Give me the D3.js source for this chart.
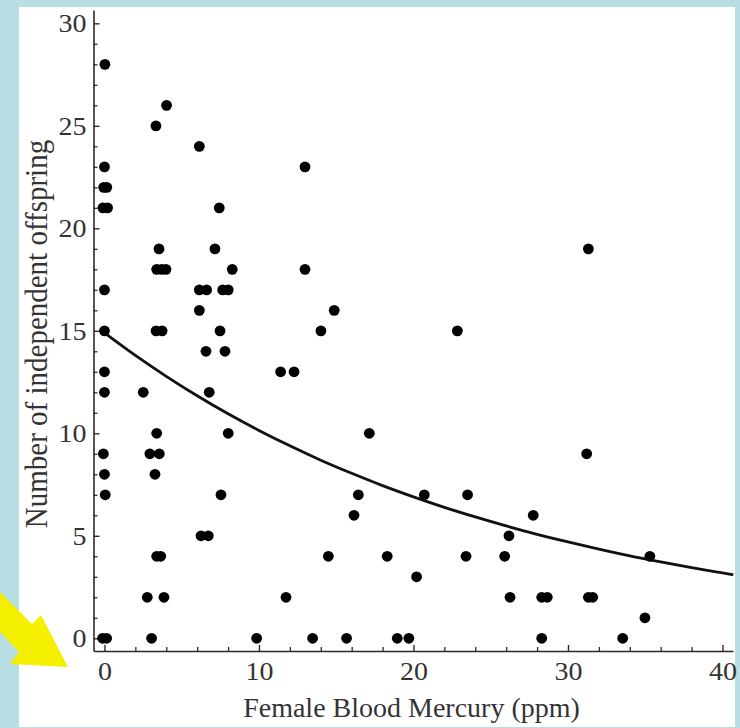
<!DOCTYPE html>
<html>
<head>
<meta charset="utf-8">
<script src="https://cdn.jsdelivr.net/npm/d3@7"></script>
<style>
  html, body { margin: 0; padding: 0; background: #b8dde3; }
  svg { display: block; }
</style>
</head>
<body>
<svg id="chart" width="740" height="728"></svg>
<script>
// Female blood mercury (ppm) for each female
const mercury = [
  0.03, 0, -0.05, 0.15, -0.1, 0.2, 0, 0, 0, 0, -0.07, 0, 0.05, -0.12, 0.14,
  2.51, 2.77, 2.94, 3.05, 3.27, 3.33, 3.34, 3.73, 3.38, 3.55, 3.38, 3.64, 3.85,
  3.53, 3.38, 3.7, 3.98, 4.02, 6.14, 6.14, 6.61, 6.14, 6.25, 6.72, 6.57, 6.78,
  7.15, 7.43, 7.48, 7.54, 7.65, 8.01, 7.8, 8.01, 8.27, 9.85, 11.4, 11.75, 12.27,
  12.98, 12.98, 13.47, 14.01, 14.49, 14.87, 15.67, 16.15, 16.43, 17.14, 18.3,
  18.95, 19.7, 20.2, 20.7, 22.84, 23.4, 23.5, 25.9, 26.18, 26.25, 27.75, 28.3,
  28.66, 28.3, 31.21, 31.32, 31.32, 31.6, 33.54, 34.98, 35.3
];
// Number of independent offspring for the same females
const offspring = [
  28, 23, 22, 22, 21, 21, 17, 15, 13, 12, 9, 8, 7, 0, 0,
  12, 2, 9, 0, 8, 25, 15, 15, 10, 9, 4, 4, 2,
  19, 18, 18, 18, 26, 24, 17, 17, 16, 5, 5, 14, 12,
  19, 21, 15, 7, 17, 17, 14, 10, 18, 0, 13, 2, 13,
  23, 18, 0, 15, 4, 16, 0, 6, 7, 10, 4,
  0, 0, 3, 7, 15, 4, 7, 4, 5, 2, 6, 2,
  2, 0, 9, 19, 2, 2, 0, 1, 4
];
// Fitted decline curve, sampled along the mercury axis
const fitX = [0, 2, 4, 6, 8, 10, 12, 14, 16, 18, 20, 22, 24, 26, 28, 30, 32, 34, 36, 38, 40, 40.7];
const fitY = [14.9, 13.8, 12.78, 11.83, 10.95, 10.14, 9.39, 8.69, 8.05, 7.45, 6.9, 6.39, 5.92, 5.48, 5.07, 4.7, 4.35, 4.02, 3.73, 3.45, 3.19, 3.1];

const xTicks = [0, 10, 20, 30, 40];
const xMinor = [2, 4, 6, 8, 12, 14, 16, 18, 22, 24, 26, 28, 32, 34, 36, 38];
const yTicks = [0, 5, 10, 15, 20, 25, 30];
const yMinor = d3.range(1, 30).filter(v => v % 5 !== 0);

const xTitle = "Female Blood Mercury (ppm)";
const yTitle = "Number of independent offspring";

const svg = d3.select("#chart");
const font = "'Liberation Serif', 'Times New Roman', serif";
const ink = "#2b2b2b";

// white panel
svg.append("rect").attr("x", 19).attr("y", 7).attr("width", 716).attr("height", 720).attr("fill", "#ffffff");

const x = d3.scaleLinear().domain([-0.71, 40.68]).range([93.5, 733]);
const y = d3.scaleLinear().domain([-0.62, 30.65]).range([651, 10]);

// minor ticks
svg.append("g").attr("transform", "translate(0,651)")
  .call(d3.axisBottom(x).tickValues(xMinor).tickSize(-4).tickFormat(""))
  .call(g => g.select(".domain").remove())
  .call(g => g.selectAll("line").attr("stroke", ink).attr("stroke-width", 1.3));
svg.append("g").attr("transform", "translate(93.5,0)")
  .call(d3.axisLeft(y).tickValues(yMinor).tickSize(-4).tickFormat(""))
  .call(g => g.select(".domain").remove())
  .call(g => g.selectAll("line").attr("stroke", ink).attr("stroke-width", 1.3));

// major axes
const xAxis = svg.append("g").attr("transform", "translate(0,651)")
  .call(d3.axisBottom(x).tickValues(xTicks).tickSize(-6).tickSizeOuter(0).tickPadding(11));
const yAxis = svg.append("g").attr("transform", "translate(93.5,0)")
  .call(d3.axisLeft(y).tickValues(yTicks).tickSize(-6).tickSizeOuter(0).tickPadding(7));

[xAxis, yAxis].forEach(g => {
  g.select(".domain").attr("stroke", ink).attr("stroke-width", 1.6);
  g.selectAll(".tick line").attr("stroke", ink).attr("stroke-width", 1.4);
  g.selectAll(".tick text")
    .attr("fill", "#333")
    .style("font-family", font)
    .style("font-size", "26px")
    .attr("textLength", d => String(d).length * 14)
    .attr("lengthAdjust", "spacingAndGlyphs");
});

// fitted curve
const line = d3.line().x(d => x(d[0])).y(d => y(d[1])).curve(d3.curveMonotoneX);
svg.append("path")
  .datum(fitX.map((v, i) => [v, fitY[i]]))
  .attr("d", line)
  .attr("fill", "none")
  .attr("stroke", "#111")
  .attr("stroke-width", 2.8);

// observations
svg.append("g").selectAll("circle")
  .data(mercury.map((v, i) => [v, offspring[i]]))
  .join("circle")
  .attr("cx", d => x(d[0]))
  .attr("cy", d => y(d[1]))
  .attr("r", 5.4)
  .attr("fill", "#000");

// axis titles
svg.append("text")
  .attr("x", 411.5).attr("y", 717)
  .attr("text-anchor", "middle")
  .attr("fill", "#333")
  .style("font-family", font)
  .style("font-size", "28px")
  .text(xTitle);

svg.append("text")
  .attr("transform", "translate(47,334) scale(1.1,1) rotate(-90)")
  .attr("text-anchor", "middle")
  .attr("fill", "#333")
  .style("font-family", font)
  .style("font-size", "29px")
  .text(yTitle);

// pointer arrow in the lower left corner
svg.append("path")
  .attr("d", "M0,592 L32,624 L41,615 L68,667 L10,664 L19,652 L0,632 Z")
  .attr("fill", "#f5f000");
</script>
</body>
</html>
